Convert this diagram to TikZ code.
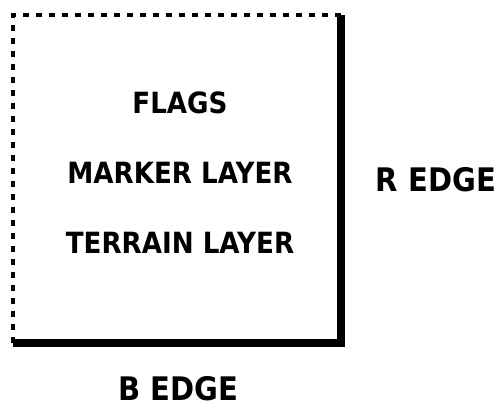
\documentclass[tikz,border=0pt]{standalone}
\usepackage{fontspec}
\setmainfont{DejaVu Sans}
\usepackage{tikz}

% tall bold caps for the labels
\newcommand{\tallcaps}[1]{\scalebox{1.02}[1.14]{#1}}

\tikzset{
	layer/.style={inner sep=1pt, font=\bfseries\fontsize{14.6}{16}\selectfont},
	edgelabel/.style={inner sep=1pt, font=\bfseries\fontsize{16.2}{18}\selectfont},
	openedge/.style={line width=2.3pt, dash pattern=on 3.4pt off 4pt},
	solidedge/.style={line width=4.6pt}
}

\begin{document}
\begin{tikzpicture}[x=0.02cm,y=-0.02cm]
				\useasboundingbox (0,0) rectangle (502,410);
				% corners of the map square
				\coordinate (nw) at (13,15);
				\coordinate (ne) at (341,15);
				\coordinate (se) at (341,343);
				\coordinate (sw) at (13,343);
				\draw[openedge] (sw) -- (nw) -- (ne);
				\draw[solidedge] (ne) -- (se) -- (sw);
				% layers stacked inside
				\foreach \name/\txt/\y in {flags/FLAGS/103, marker/MARKER LAYER/173, terrain/TERRAIN LAYER/243} {
					\node[layer] (\name) at (180,\y) {\tallcaps{\txt}};
				}
				\node[edgelabel] (redge) at (436,180) {\tallcaps{R EDGE}};
				\node[edgelabel] (bedge) at (178,389) {\tallcaps{B EDGE}};
			\end{tikzpicture}
\end{document}
